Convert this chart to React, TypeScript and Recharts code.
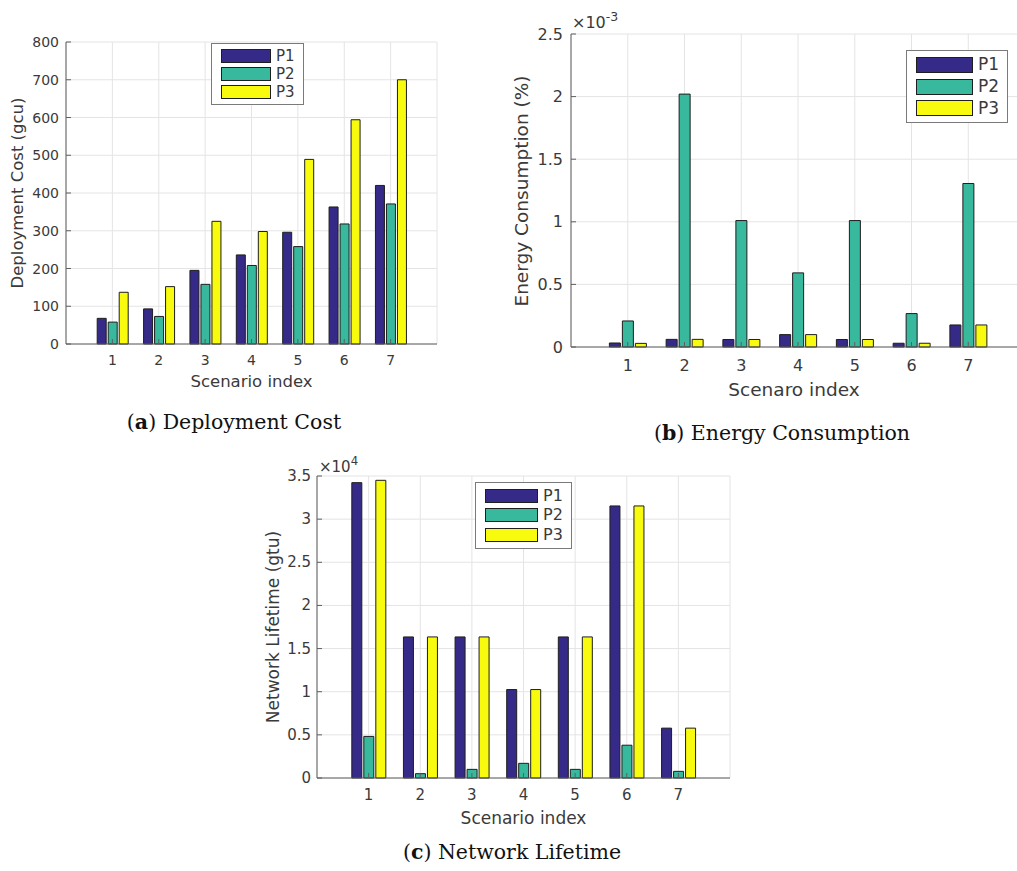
import React from 'react';
import { BarChart, Bar, XAxis, YAxis, CartesianGrid, Legend } from 'recharts';

const SCENARIOS = ['1', '2', '3', '4', '5', '6', '7'];
const SERIES = ['P1', 'P2', 'P3'];
const SERIES_COLORS = ['#352a87', '#38b89c', '#f9fb0e'];

// (a) Deployment cost (gcu)
const COST_P1 = [68, 93, 195, 236, 296, 363, 420];
const COST_P2 = [58, 73, 158, 208, 258, 318, 371];
const COST_P3 = [137, 152, 325, 298, 489, 594, 700];
const COST_TICKS = [0, 100, 200, 300, 400, 500, 600, 700, 800];

// (b) Energy consumption (%), values in units of 1e-3
const ENERGY_P1 = [0.032, 0.061, 0.06, 0.099, 0.06, 0.03, 0.176];
const ENERGY_P2 = [0.208, 2.02, 1.01, 0.592, 1.01, 0.267, 1.306];
const ENERGY_P3 = [0.029, 0.061, 0.06, 0.099, 0.06, 0.03, 0.176];
const ENERGY_TICKS = [0, 0.5, 1, 1.5, 2, 2.5];

// (c) Network lifetime (gtu), values in units of 1e4
const LIFE_P1 = [3.423, 1.635, 1.635, 1.025, 1.635, 3.153, 0.578];
const LIFE_P2 = [0.482, 0.05, 0.1, 0.17, 0.1, 0.38, 0.077];
const LIFE_P3 = [3.45, 1.635, 1.635, 1.025, 1.635, 3.153, 0.578];
const LIFE_TICKS = [0, 0.5, 1, 1.5, 2, 2.5, 3, 3.5];

const AXIS = '#5f5f5f';
const TEXT = '#3a3a3a';
const GRID = '#e4e4e4';
const SANS = '"DejaVu Sans", sans-serif';

const buildRows = (series: number[][]) =>
    SCENARIOS.map((s, i) => {
        const row: any = { s };
        SERIES.forEach((name, k) => (row[name] = series[k][i]));
        return row;
    });

// MATLAB style: ticks point inward on all four sides
const bottomTick = (fs: number, dy: number) => (props: any) => {
    const { x, y, payload } = props;
    return (
        <g>
            <line x1={x} x2={x} y1={y} y2={y - 5} stroke={AXIS} />
            <text x={x} y={y + dy} textAnchor="middle" dominantBaseline="central" fontSize={fs} fill={TEXT} fontFamily={SANS}>
                {payload.value}
            </text>
        </g>
    );
};

const leftTick = (fs: number, gap: number) => (props: any) => {
    const { x, y, payload } = props;
    return (
        <g>
            <line x1={x} x2={x + 5} y1={y} y2={y} stroke={AXIS} />
            <text x={x - gap} y={y} textAnchor="end" dominantBaseline="central" fontSize={fs} fill={TEXT} fontFamily={SANS}>
                {String(payload.value)}
            </text>
        </g>
    );
};

const topTick = (props: any) => {
    const { x, y } = props;
    return <line x1={x} x2={x} y1={y} y2={y + 5} stroke={AXIS} />;
};

const rightTick = (props: any) => {
    const { x, y } = props;
    return <line x1={x} x2={x - 5} y1={y} y2={y} stroke={AXIS} />;
};

interface PanelProps {
    box: { x0: number; y0: number; x1: number; y1: number };
    series: number[][];
    yTicks: number[];
    tickFs: number;
    titleFs: number;
    legendFs: number;
    tickDy: number;
    tickGap: number;
    barSize: number;
    barGap: number;
    xTitle: string;
    yTitle: string;
    xTitleY: number;
    yTitleX: number;
    legend: { left: number; top: number; patchW: number; patchH: number; rowH: number };
    exponent?: { pow: string; x: number; y: number; fs: number };
}

const PADL = 70;
const PADT = 30;
const PADR = 20;
const PADB = 40;

function Panel(p: PanelProps) {
    const { box } = p;
    const left = box.x0 - PADL;
    const top = box.y0 - PADT;
    const w = box.x1 - box.x0 + PADL + PADR;
    const h = box.y1 - box.y0 + PADT + PADB;
    const step = (box.x1 - box.x0) / 8;
    const data = buildRows(p.series);
    const yDomain = [p.yTicks[0], p.yTicks[p.yTicks.length - 1]];
    const lg = p.legend;

    const legendContent = () => (
        <div
            style={{
                border: '1px solid #7a7a7a',
                background: '#fff',
                padding: '3px 8px 3px 9px',
                fontFamily: SANS,
                fontSize: p.legendFs,
                color: TEXT,
            }}
        >
            {SERIES.map((name, k) => (
                <div key={name} style={{ display: 'flex', alignItems: 'center', height: lg.rowH }}>
                    <span
                        style={{
                            display: 'inline-block',
                            width: lg.patchW,
                            height: lg.patchH,
                            background: SERIES_COLORS[k],
                            border: '1px solid #1e1e1e',
                            boxSizing: 'border-box',
                            marginRight: 5,
                        }}
                    />
                    <span style={{ lineHeight: 1 }}>{name}</span>
                </div>
            ))}
        </div>
    );

    return (
        <>
            <div style={{ position: 'absolute', left, top, width: w, height: h }}>
                <BarChart
                    width={w}
                    height={h}
                    data={data}
                    margin={{ top: PADT, right: PADR, left: 0, bottom: 0 }}
                    barSize={p.barSize}
                    barGap={p.barGap}
                >
                    <CartesianGrid stroke={GRID} />
                    <XAxis
                        dataKey="s"
                        height={PADB}
                        padding={{ left: step / 2, right: step / 2 }}
                        axisLine={{ stroke: AXIS }}
                        tickLine={false}
                        tickSize={0}
                        tickMargin={0}
                        tick={bottomTick(p.tickFs, p.tickDy)}
                        interval={0}
                    />
                    <XAxis
                        xAxisId="top"
                        orientation="top"
                        dataKey="s"
                        height={0}
                        padding={{ left: step / 2, right: step / 2 }}
                        axisLine={{ stroke: AXIS }}
                        tickLine={false}
                        tickSize={0}
                        tickMargin={0}
                        tick={topTick}
                        interval={0}
                    />
                    <YAxis
                        width={PADL}
                        domain={yDomain}
                        ticks={p.yTicks}
                        interval={0}
                        axisLine={{ stroke: AXIS }}
                        tickLine={false}
                        tickSize={0}
                        tickMargin={0}
                        tick={leftTick(p.tickFs, p.tickGap)}
                    />
                    <YAxis
                        yAxisId="right"
                        orientation="right"
                        width={0}
                        domain={yDomain}
                        ticks={p.yTicks}
                        interval={0}
                        axisLine={{ stroke: AXIS }}
                        tickLine={false}
                        tickSize={0}
                        tickMargin={0}
                        tick={rightTick}
                    />
                    <Legend
                        layout="vertical"
                        align="center"
                        verticalAlign="middle"
                        content={legendContent}
                        wrapperStyle={{ left: lg.left - left, top: lg.top - top, width: 'auto', height: 'auto' }}
                    />
                    {SERIES.map((name, k) => (
                        <Bar
                            key={name}
                            dataKey={name}
                            fill={SERIES_COLORS[k]}
                            stroke="#1e1e1e"
                            strokeWidth={1}
                            isAnimationActive={false}
                        />
                    ))}
                </BarChart>
            </div>
            <div
                style={{
                    position: 'absolute',
                    left: (box.x0 + Math.min(box.x1, 1017 + (box.x1 - 1017) * 0) ) / 2,
                    top: p.xTitleY,
                    transform: 'translate(-50%, -50%)',
                    fontFamily: SANS,
                    fontSize: p.titleFs,
                    color: TEXT,
                    whiteSpace: 'nowrap',
                    lineHeight: 1,
                }}
            >
                {p.xTitle}
            </div>
            <div
                style={{
                    position: 'absolute',
                    left: p.yTitleX,
                    top: (box.y0 + box.y1) / 2,
                    transform: 'translate(-50%, -50%) rotate(-90deg)',
                    fontFamily: SANS,
                    fontSize: p.titleFs,
                    color: TEXT,
                    whiteSpace: 'nowrap',
                    lineHeight: 1,
                }}
            >
                {p.yTitle}
            </div>
            {p.exponent && (
                <div
                    style={{
                        position: 'absolute',
                        left: p.exponent.x,
                        top: p.exponent.y,
                        transform: 'translateY(-50%)',
                        fontFamily: SANS,
                        fontSize: p.exponent.fs,
                        color: TEXT,
                        whiteSpace: 'nowrap',
                        lineHeight: 1,
                    }}
                >
                    ×10
                    <span style={{ fontSize: p.exponent.fs * 0.78, position: 'relative', top: -p.exponent.fs * 0.45 }}>
                        {p.exponent.pow}
                    </span>
                </div>
            )}
        </>
    );
}

const captionStyle = (x: number, y: number): React.CSSProperties => ({
    position: 'absolute',
    left: x,
    top: y,
    transform: 'translate(-50%, -50%)',
    fontFamily: '"DejaVu Serif", serif',
    fontSize: 20.5,
    color: '#111',
    whiteSpace: 'nowrap',
    lineHeight: 1,
});

export default function App() {
    return (
        <div
            style={{
                position: 'absolute',
                left: 0,
                top: 0,
                width: 1017,
                height: 871,
                overflow: 'hidden',
                background: '#fff',
            }}
        >
            <Panel
                box={{ x0: 66, y0: 42, x1: 437, y1: 344 }}
                series={[COST_P1, COST_P2, COST_P3]}
                yTicks={COST_TICKS}
                tickFs={14}
                titleFs={16.5}
                legendFs={15}
                tickDy={16}
                tickGap={7}
                barSize={9}
                barGap={2}
                xTitle="Scenario index"
                yTitle="Deployment Cost (gcu)"
                xTitleY={382}
                yTitleX={18}
                legend={{ left: 211, top: 43, patchW: 50, patchH: 14, rowH: 18 }}
            />
            <Panel
                box={{ x0: 571, y0: 34, x1: 1025, y1: 347 }}
                series={[ENERGY_P1, ENERGY_P2, ENERGY_P3]}
                yTicks={ENERGY_TICKS}
                tickFs={16}
                titleFs={18.5}
                legendFs={17}
                tickDy={18}
                tickGap={8}
                barSize={11}
                barGap={2}
                xTitle="Scenaro index"
                yTitle="Energy Consumption (%)"
                xTitleY={390}
                yTitleX={522}
                legend={{ left: 906, top: 50, patchW: 57, patchH: 16, rowH: 21.7 }}
                exponent={{ pow: '-3', x: 572, y: 23, fs: 16 }}
            />
            <Panel
                box={{ x0: 317, y0: 476, x1: 730, y1: 778 }}
                series={[LIFE_P1, LIFE_P2, LIFE_P3]}
                yTicks={LIFE_TICKS}
                tickFs={15}
                titleFs={17}
                legendFs={16}
                tickDy={17}
                tickGap={6}
                barSize={10}
                barGap={2}
                xTitle="Scenario index"
                yTitle="Network Lifetime (gtu)"
                xTitleY={818}
                yTitleX={273}
                legend={{ left: 475, top: 482, patchW: 53, patchH: 14, rowH: 19.5 }}
                exponent={{ pow: '4', x: 319, y: 467, fs: 15 }}
            />
            <div style={captionStyle(234, 422)}>
                (<b>a</b>) Deployment Cost
            </div>
            <div style={captionStyle(782, 433)}>
                (<b>b</b>) Energy Consumption
            </div>
            <div style={captionStyle(512, 852)}>
                (<b>c</b>) Network Lifetime
            </div>
        </div>
    );
}
